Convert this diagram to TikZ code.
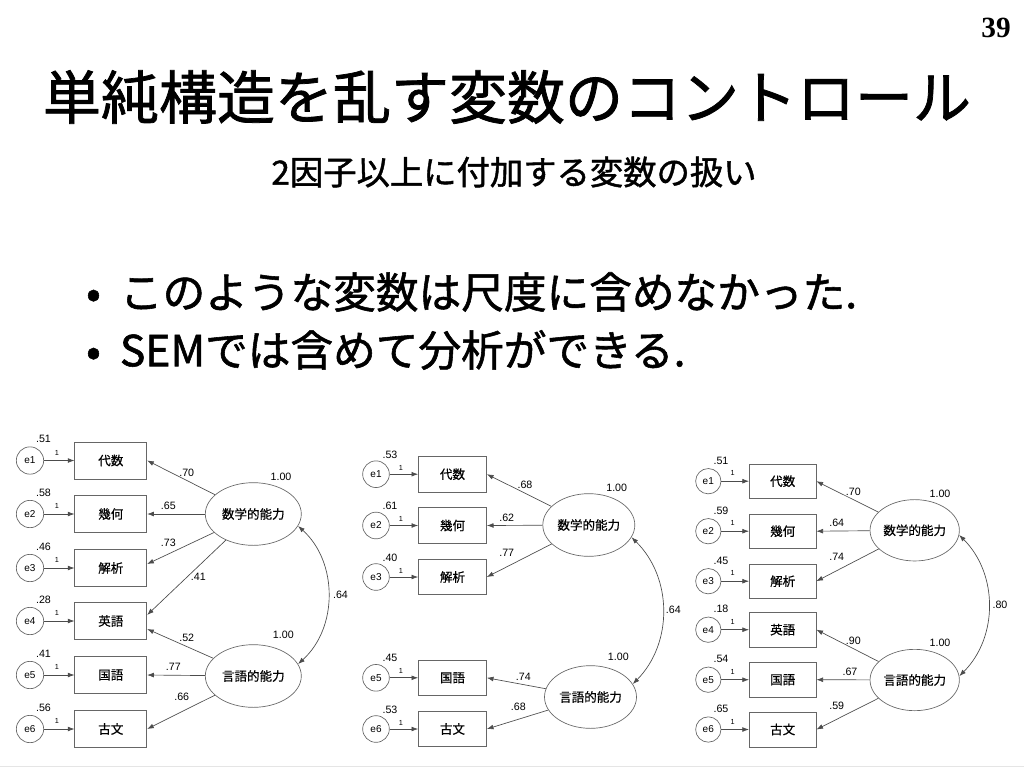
\documentclass[tikz,border=0pt]{standalone}
\usepackage{fontspec}
\setmainfont{Liberation Sans}
\newfontfamily\jp{Noto Sans CJK JP}
\newfontfamily\jph{Noto Sans CJK JP}[FakeBold=1.3]
\newfontfamily\jpm{Noto Sans CJK JP}[FakeBold=0.5]
\newfontfamily\lab{Liberation Sans}
\newfontfamily\serifnum{Liberation Serif}
\usetikzlibrary{arrows.meta,calc,shapes.geometric}
\tikzset{
  ln/.style={draw=black!70, line width=0.5pt},
  arr/.style={ln, -{Latex[length=5pt,width=3.6pt]}},
  cov/.style={ln, {Latex[length=5pt,width=3.6pt]}-{Latex[length=5pt,width=3.6pt]}},
  jpnode/.style={font=\jpm\fontsize{9.4}{10}\selectfont},
  obs/.style={jpnode, draw=black!60, line width=0.5pt, rectangle, inner sep=0pt, fill=white},
  lat/.style={jpnode, draw=black!60, line width=0.5pt, ellipse, inner sep=0pt, fill=white},
  err/.style={draw=black!60, line width=0.5pt, circle, inner sep=0pt, fill=white, font=\lab\fontsize{7.5}{8}\selectfont},
  num/.style={font=\lab\fontsize{8}{9}\selectfont, inner sep=0pt},
  one/.style={font=\lab\fontsize{5.5}{6}\selectfont, inner sep=0pt},
  obsA/.style={obs, minimum width=54pt, minimum height=28pt},
  obsB/.style={obs, minimum width=51pt, minimum height=26.6pt},
  obsC/.style={obs, minimum width=50pt, minimum height=26pt},
  latA/.style={lat, minimum width=72pt, minimum height=47pt},
  latB/.style={lat, minimum width=69pt, minimum height=47pt},
  latC/.style={lat, minimum width=67pt, minimum height=46pt},
  errA/.style={err, minimum size=20.5pt},
  errB/.style={err, minimum size=20pt},
  errC/.style={err, minimum size=19pt},
  titletext/.style={font=\jph\fontsize{43.5}{48}\selectfont, inner sep=0pt},
  subtext/.style={font=\jph\fontsize{25}{28}\selectfont, inner sep=0pt},
  bullettext/.style={font=\jph\fontsize{32}{36}\selectfont, inner sep=0pt, anchor=west},
  pagenum/.style={font=\serifnum\bfseries\fontsize{22}{24}\selectfont, inner sep=0pt}
}
\begin{document}
\begin{tikzpicture}[x=0.75pt,y=-0.75pt]
\fill[white] (0,0) rectangle (1024,768);
\useasboundingbox (0,0) rectangle (1024,768);
\draw[black!10, line width=0.6pt] (0,766) -- (1024,766);

% header texts
\node[pagenum] (pnum) at (996,28) {39};
\node[titletext] (title) at (507,97) {単純構造を乱す変数のコントロール};
\node[subtext] (sub) at (514,172) {2因子以上に付加する変数の扱い};
\node[bullettext] (bl1) at (86,292) {•\hspace{0.45em}このような変数は尺度に含めなかった.};
\node[bullettext] (bl2) at (86,350) {•\hspace{0.45em}SEMでは含めて分析ができる.};

% ===== Diagram A =====
\foreach \i/\y/\t/\v in {1/460.5/代数/.51, 2/514/幾何/.58, 3/568/解析/.46, 4/621/英語/.28, 5/675/国語/.41, 6/729/古文/.56}{
  \node[errA] (a-e\i) at (30,\y) {e\i};
  \node[obsA] (a-b\i) at (110.8,\y) {\t};
  \draw[arr] (a-e\i) -- (a-b\i);
  \node[num] (a-v\i) at (43.5,\y-21.5) {\v};
  \node[one] (a-o\i) at (57,\y-8) {1};
}
\node[latA] (a-m) at (253.3,514) {数学的能力};
\node[latA] (a-g) at (253.3,676) {言語的能力};
\draw[arr] (a-m) -- (a-b1.east);
\draw[arr] (a-m) -- (a-b2.east);
\draw[arr] (a-m) -- ($(a-b3.east)+(0,-4)$);
\draw[arr] (a-m) -- ($(a-b4.east)+(0,-6)$);
\draw[arr] (a-g) -- ($(a-b4.east)+(0,8)$);
\draw[arr] (a-g) -- (a-b5.east);
\draw[arr] (a-g) -- (a-b6.east);
\draw[cov] (a-m.-15) to[bend left=48] (a-g.15);
\node[num] (a-l1) at (186.7,473.3) {.70};
\node[num] (a-l2) at (168.3,506) {.65};
\node[num] (a-l3) at (168.3,543.3) {.73};
\node[num] (a-l4) at (198.3,576.7) {.41};
\node[num] (a-l5) at (186.7,638.3) {.52};
\node[num] (a-l6) at (173.3,667.3) {.77};
\node[num] (a-l7) at (181.7,696.7) {.66};
\node[num] (a-mv) at (281,476.7) {1.00};
\node[num] (a-gv) at (283.3,635) {1.00};
\node[num] (a-c) at (340.5,595) {.64};

% ===== Diagram B =====
\foreach \i/\y/\t/\v in {1/474.2/代数/.53, 2/525.5/幾何/.61, 3/577/解析/.40, 5/677.8/国語/.45, 6/729/古文/.53}{
  \node[errB] (b-e\i) at (376,\y) {e\i};
  \node[obsB] (b-b\i) at (452.5,\y) {\t};
  \draw[arr] (b-e\i) -- (b-b\i);
  \node[num] (b-v\i) at (390,\y-19.5) {\v};
  \node[one] (b-o\i) at (401,\y-6.5) {1};
}
\node[latB] (b-m) at (588.8,525) {数学的能力};
\node[latB] (b-g) at (590.5,697) {言語的能力};
\draw[arr] (b-m) -- (b-b1.east);
\draw[arr] (b-m) -- (b-b2.east);
\draw[arr] (b-m) -- (b-b3.east);
\draw[arr] (b-g) -- (b-b5.east);
\draw[arr] (b-g) -- (b-b6.east);
\draw[cov] (b-m.-16) to[bend left=45] (b-g.17);
\node[num] (b-l1) at (525,485) {.68};
\node[num] (b-l2) at (506.7,518.3) {.62};
\node[num] (b-l3) at (506.7,553.3) {.77};
\node[num] (b-l5) at (523.3,676.7) {.74};
\node[num] (b-l6) at (518.3,707.3) {.68};
\node[num] (b-mv) at (616.7,488.3) {1.00};
\node[num] (b-gv) at (618.3,657.3) {1.00};
\node[num] (b-c) at (673.3,610) {.64};

% ===== Diagram C =====
\foreach \i/\y/\t/\v in {1/481.2/代数/.51, 2/531.2/幾何/.59, 3/581.2/解析/.45, 4/629.7/英語/.18, 5/679.7/国語/.54, 6/729.5/古文/.65}{
  \node[errC] (c-e\i) at (708.3,\y) {e\i};
  \node[obsC] (c-b\i) at (782.7,\y) {\t};
  \draw[arr] (c-e\i) -- (c-b\i);
  \node[num] (c-v\i) at (721,\y-20.5) {\v};
  \node[one] (c-o\i) at (732.7,\y-8) {1};
}
\node[latC] (c-m) at (914.7,530.3) {数学的能力};
\node[latC] (c-g) at (914.7,680) {言語的能力};
\draw[arr] (c-m) -- (c-b1.east);
\draw[arr] (c-m) -- (c-b2.east);
\draw[arr] (c-m) -- (c-b3.east);
\draw[arr] (c-g) -- (c-b4.east);
\draw[arr] (c-g) -- (c-b5.east);
\draw[arr] (c-g) -- (c-b6.east);
\draw[cov] (c-m.-6) to[bend left=45] (c-g.5);
\node[num] (c-l1) at (853.3,492.3) {.70};
\node[num] (c-l2) at (836.7,523.3) {.64};
\node[num] (c-l3) at (836.7,557.3) {.74};
\node[num] (c-l4) at (853.3,640.7) {.90};
\node[num] (c-l5) at (850,671.7) {.67};
\node[num] (c-l6) at (836.7,706) {.59};
\node[num] (c-mv) at (940,494) {1.00};
\node[num] (c-gv) at (940,642.7) {1.00};
\node[num] (c-c) at (1000,605) {.80};
\end{tikzpicture}
\end{document}
